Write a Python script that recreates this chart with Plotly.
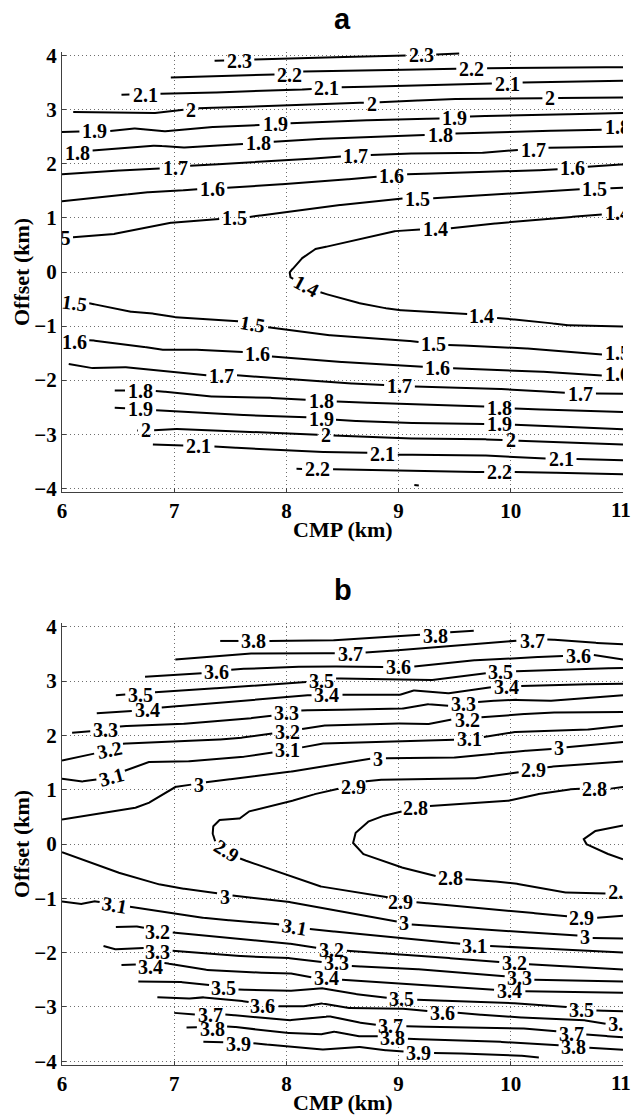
import math
import numpy as np
import plotly.graph_objects as go

# ---------------- data ----------------
CMP_TICKS = [6, 7, 8, 9, 10, 11]
CMP_TICK_TEXT = ["6", "7", "8", "9", "10", "11"]
OFFSET_TICKS = [-4, -3, -2, -1, 0, 1, 2, 3, 4]
PANEL_TITLES = ["a", "b"]
X_TITLE = "CMP (km)"
Y_TITLE = "Offset (km)"

# Panel a: contour lines (level, CMP km, offset km)
A_CONTOURS = [
    (2.3, [7.36, 7.7, 8.3, 9.0, 9.3, 9.54], [3.91, 3.93, 3.97, 4.0, 4.02, 4.04]),
    (2.2, [6.97, 7.5, 7.88, 8.15, 8.5, 9.0, 9.5, 10.0, 10.5, 11.0],
          [3.60, 3.62, 3.65, 3.71, 3.73, 3.74, 3.76, 3.78, 3.785, 3.79]),
    (2.1, [6.53, 6.97, 7.5, 8.0, 8.5, 9.0, 9.5, 10.0, 10.5, 11.0],
          [3.28, 3.30, 3.33, 3.36, 3.42, 3.44, 3.46, 3.50, 3.52, 3.54]),
    (2.0, [6.10, 6.5, 6.78, 6.97, 7.23, 8.0, 8.5, 9.0, 9.4, 10.0, 10.5, 11.0],
          [2.96, 2.95, 2.93, 2.98, 3.03, 3.08, 3.12, 3.15, 3.20, 3.21, 3.22, 3.23]),
    (1.9, [6.0, 6.43, 6.63, 6.9, 7.23, 7.76, 8.03, 8.5, 9.0, 9.4, 9.65, 10.3, 11.0],
          [2.59, 2.61, 2.66, 2.60, 2.67, 2.72, 2.75, 2.79, 2.83, 2.84, 2.88, 2.91, 2.94]),
    (1.8, [6.0, 6.28, 6.85, 7.05, 7.62, 7.88, 8.23, 9.0, 9.5, 10.0, 10.5, 11.0],
          [2.20, 2.25, 2.34, 2.30, 2.37, 2.41, 2.46, 2.51, 2.56, 2.60, 2.62, 2.64]),
    (1.7, [6.0, 6.34, 6.85, 7.17, 8.0, 8.5, 8.78, 9.0, 9.72, 10.07, 10.35, 11.0],
          [1.81, 1.86, 1.91, 1.97, 2.06, 2.14, 2.17, 2.19, 2.20, 2.26, 2.30, 2.32]),
    (1.6, [6.0, 6.43, 6.7, 6.97, 7.17, 7.48, 8.3, 8.79, 9.09, 10.0, 10.41, 10.7, 11.0],
          [1.31, 1.39, 1.47, 1.49, 1.53, 1.56, 1.67, 1.76, 1.81, 1.86, 1.90, 1.95, 1.99]),
    (1.5, [6.0, 6.07, 6.43, 6.78, 6.97, 7.38, 7.68, 8.23, 9.0, 9.28, 10.0, 10.6, 11.0],
          [0.61, 0.64, 0.69, 0.84, 0.91, 0.98, 1.02, 1.18, 1.36, 1.36, 1.46, 1.53, 1.56]),
    (1.4, [11.0, 10.79, 10.0, 9.48, 9.0, 8.75, 8.57, 8.45, 8.27, 8.15, 8.08, 8.03, 8.03,
           8.19, 8.31, 8.57, 8.75, 8.97, 9.59, 9.92, 10.28, 10.46, 11.0],
          [1.08, 1.06, 0.93, 0.81, 0.77, 0.65, 0.56, 0.50, 0.44, 0.28, 0.10, 0.01, -0.09,
           -0.27, -0.38, -0.54, -0.62, -0.70, -0.77, -0.86, -0.92, -0.98, -1.01]),
    (1.5, [6.0, 6.25, 6.58, 6.76, 6.97, 7.5, 7.7, 7.83, 8.3, 9.0, 9.15, 9.45, 10.0, 10.75, 11.0],
          [-0.56, -0.58, -0.73, -0.75, -0.83, -0.89, -0.95, -1.02, -1.16, -1.25, -1.29, -1.35,
           -1.39, -1.52, -1.55]),
    (1.6, [6.0, 6.25, 6.64, 6.87, 7.11, 7.59, 7.85, 8.3, 9.18, 9.5, 10.0, 10.79, 11.0],
          [-1.30, -1.26, -1.35, -1.44, -1.43, -1.47, -1.56, -1.64, -1.75, -1.78, -1.81, -1.91, -1.93]),
    (1.7, [6.06, 6.25, 6.52, 6.97, 7.23, 7.56, 8.3, 8.85, 9.18, 10.0, 10.46, 10.78, 11.0],
          [-1.70, -1.78, -1.75, -1.85, -1.91, -1.91, -2.03, -2.09, -2.12, -2.17, -2.23, -2.25, -2.25]),
    (1.8, [6.47, 6.85, 7.29, 7.7, 8.15, 8.47, 9.0, 9.77, 10.07, 11.0],
          [-2.19, -2.20, -2.30, -2.31, -2.36, -2.40, -2.44, -2.49, -2.53, -2.59]),
    (1.9, [6.47, 6.86, 7.53, 8.15, 8.47, 9.0, 9.77, 10.1, 11.0],
          [-2.51, -2.56, -2.64, -2.68, -2.74, -2.79, -2.81, -2.83, -2.91]),
    (2.0, [6.67, 6.8, 6.97, 7.5, 8.3, 9.0, 9.72, 10.04, 11.0],
          [-2.93, -2.93, -2.90, -2.94, -3.01, -3.08, -3.09, -3.12, -3.19]),
    (2.1, [6.81, 7.38, 8.0, 8.3, 8.7, 9.0, 9.72, 10.31, 10.6, 11.0],
          [-3.19, -3.23, -3.31, -3.33, -3.34, -3.38, -3.39, -3.45, -3.46, -3.48]),
    (2.2, [8.09, 8.43, 9.0, 9.77, 10.07, 11.0],
          [-3.64, -3.65, -3.67, -3.70, -3.70, -3.74]),
    (2.3, [9.14, 9.18], [-3.94, -3.95]),
]

# Panel a: contour labels (level, CMP km, offset km, rotation deg)
A_LABELS = [
    (2.3, 7.58, 3.91, 0), (2.3, 9.20, 4.02, 0),
    (2.2, 8.03, 3.64, 0), (2.2, 9.65, 3.75, 0),
    (2.1, 6.74, 3.28, 0), (2.1, 8.36, 3.40, 0), (2.1, 9.97, 3.48, 0),
    (2.0, 7.15, 3.00, 0), (2.0, 8.76, 3.11, 0), (2.0, 10.35, 3.21, 0),
    (1.9, 6.29, 2.60, 0), (1.9, 7.90, 2.73, 0), (1.9, 9.50, 2.85, 0),
    (1.8, 6.14, 2.20, 0), (1.8, 7.75, 2.38, 0), (1.8, 9.37, 2.53, 0), (1.8, 10.95, 2.64, 0),
    (1.7, 7.01, 1.93, 0), (1.7, 8.62, 2.14, 0), (1.7, 10.20, 2.26, 0),
    (1.6, 7.34, 1.54, 0), (1.6, 8.94, 1.78, 0), (1.6, 10.55, 1.92, 0),
    (1.5, 5.964, 0.60, 0), (1.5, 7.54, 1.00, 0), (1.5, 9.17, 1.35, 0), (1.5, 10.75, 1.53, 0),
    (1.4, 10.95, 1.06, 0), (1.4, 9.33, 0.79, 0), (1.4, 8.18, -0.25, 28), (1.4, 9.74, -0.82, 0),
    (1.5, 6.11, -0.57, 8), (1.5, 7.70, -0.97, 10), (1.5, 9.31, -1.33, 0), (1.5, 10.95, -1.54, 0),
    (1.6, 6.11, -1.30, 0), (1.6, 7.74, -1.52, 0), (1.6, 9.35, -1.77, 0), (1.6, 10.95, -1.92, 0),
    (1.7, 7.42, -1.92, 0), (1.7, 9.01, -2.11, 0), (1.7, 10.62, -2.25, 0),
    (1.8, 6.70, -2.20, 0), (1.8, 8.31, -2.38, 0), (1.8, 9.90, -2.51, 0),
    (1.9, 6.70, -2.53, 0), (1.9, 8.31, -2.71, 0), (1.9, 9.90, -2.82, 0),
    (2.0, 6.75, -2.93, 0), (2.0, 8.35, -3.01, 0), (2.0, 10.00, -3.11, 0),
    (2.1, 7.22, -3.22, 0), (2.1, 8.86, -3.36, 0), (2.1, 10.45, -3.46, 0),
    (2.2, 8.28, -3.64, 0), (2.2, 9.90, -3.70, 0),
]

# Panel b: contour lines (level, CMP km, offset km)
B_CONTOURS = [
    (3.8, [7.41, 7.87, 8.3, 9.0, 9.46, 9.67], [3.74, 3.74, 3.74, 3.82, 3.90, 3.93]),
    (3.7, [7.01, 7.65, 8.23, 8.41, 8.72, 9.0, 9.57, 10.0, 10.34, 10.61, 11.0],
          [3.40, 3.51, 3.52, 3.51, 3.53, 3.57, 3.66, 3.74, 3.77, 3.72, 3.68]),
    (3.6, [6.74, 7.23, 7.55, 8.0, 8.3, 8.82, 9.14, 9.57, 10.0, 10.43, 10.74, 11.0],
          [3.08, 3.14, 3.22, 3.26, 3.27, 3.26, 3.27, 3.37, 3.42, 3.46, 3.48, 3.40]),
    (3.5, [6.48, 6.85, 7.53, 8.0, 8.31, 8.45, 9.0, 9.3, 9.72, 10.04, 10.61, 11.0],
          [2.74, 2.80, 2.89, 2.96, 3.00, 3.05, 3.03, 3.02, 3.14, 3.18, 3.23, 3.24]),
    (3.4, [6.31, 6.58, 6.91, 7.53, 8.12, 8.3, 8.5, 9.0, 9.12, 9.42, 9.83, 10.1, 10.61, 11.0],
          [2.41, 2.44, 2.52, 2.62, 2.73, 2.75, 2.75, 2.74, 2.83, 2.77, 2.89, 2.91, 2.94, 2.95]),
    (3.3, [6.09, 6.28, 6.53, 7.0, 7.53, 7.86, 8.14, 8.3, 9.0, 9.24, 9.42, 9.73, 10.0, 10.31, 11.0],
          [2.05, 2.08, 2.17, 2.20, 2.28, 2.36, 2.46, 2.47, 2.48, 2.58, 2.54, 2.62, 2.66, 2.63, 2.74]),
    (3.2, [6.0, 6.28, 6.55, 7.0, 7.53, 7.86, 8.14, 8.3, 9.0, 9.24, 9.42, 9.76, 10.31, 11.0],
          [1.54, 1.66, 1.85, 1.88, 1.94, 2.03, 2.12, 2.18, 2.22, 2.20, 2.28, 2.34, 2.42, 2.43]),
    (3.1, [6.0, 6.16, 6.28, 6.56, 6.76, 7.03, 7.53, 7.89, 8.14, 8.3, 9.0, 9.48, 9.76, 10.0, 10.61, 11.0],
          [1.20, 1.15, 1.17, 1.35, 1.51, 1.51, 1.58, 1.69, 1.78, 1.85, 1.89, 1.92, 1.97, 2.06, 2.09, 2.18]),
    (3.0, [6.0, 6.64, 6.76, 7.0, 7.11, 7.29, 7.53, 8.0, 8.3, 8.74, 8.88, 9.42, 9.72, 10.0, 10.37, 10.49, 11.0],
          [0.45, 0.66, 0.74, 1.05, 1.08, 1.14, 1.20, 1.32, 1.42, 1.57, 1.58, 1.58, 1.63, 1.70, 1.75, 1.78, 1.88]),
    (2.9, [11.0, 10.34, 10.07, 9.72, 9.0, 8.74, 8.47, 8.3, 8.12, 8.0, 7.68, 7.59, 7.41, 7.35, 7.34, 7.36,
           7.47, 7.6, 7.98, 8.12, 8.3, 8.82, 9.18, 9.72, 10.43, 10.77, 11.0],
          [1.52, 1.42, 1.32, 1.21, 1.20, 1.17, 1.02, 0.95, 0.83, 0.77, 0.62, 0.47, 0.45, 0.34, 0.22, 0.06,
           -0.14, -0.28, -0.55, -0.66, -0.78, -0.95, -1.08, -1.17, -1.32, -1.36, -1.32]),
    (2.8, [11.0, 10.89, 10.58, 10.31, 10.0, 9.3, 9.15, 8.91, 8.74, 8.62, 8.59, 8.68, 8.97, 9.33, 9.61,
           10.0, 10.46, 11.0],
          [1.05, 1.02, 1.02, 0.95, 0.80, 0.71, 0.65, 0.55, 0.43, 0.22, 0.03, -0.18, -0.40, -0.59, -0.65,
           -0.71, -0.89, -0.92]),
    (2.8, [11.0, 10.76, 10.65, 10.67, 10.82, 11.0], [0.34, 0.25, 0.09, 0.0, -0.15, -0.28]),
    (3.0, [6.0, 6.4, 6.79, 7.0, 7.32, 7.52, 7.98, 8.3, 8.97, 9.11, 10.0, 10.58, 10.73, 11.0],
          [-0.15, -0.46, -0.71, -0.80, -0.89, -0.95, -1.05, -1.17, -1.42, -1.48, -1.61, -1.68, -1.73, -1.74]),
    (3.1, [6.0, 6.16, 6.28, 6.62, 7.0, 7.38, 7.83, 8.23, 8.97, 9.57, 9.83, 10.61, 11.0],
          [-1.06, -1.11, -1.05, -1.16, -1.29, -1.39, -1.45, -1.57, -1.73, -1.84, -1.88, -1.96, -2.00]),
    (3.2, [6.48, 6.64, 6.98, 7.53, 7.98, 8.3, 8.56, 9.0, 9.89, 10.19, 11.0],
          [-1.53, -1.51, -1.63, -1.73, -1.82, -1.92, -1.97, -2.03, -2.17, -2.22, -2.31]),
    (3.3, [6.37, 6.46, 6.7, 7.0, 7.53, 7.98, 8.3, 8.59, 9.0, 9.89, 10.21, 11.0],
          [-1.88, -1.94, -1.91, -1.97, -2.06, -2.09, -2.17, -2.25, -2.28, -2.42, -2.50, -2.53]),
    (3.4, [6.53, 6.92, 7.23, 7.68, 8.0, 8.27, 8.51, 9.0, 9.83, 10.13, 11.0],
          [-2.23, -2.19, -2.31, -2.37, -2.37, -2.47, -2.50, -2.56, -2.68, -2.71, -2.74]),
    (3.5, [6.68, 7.0, 7.29, 7.58, 8.0, 8.3, 8.53, 8.88, 9.18, 10.01, 10.49, 10.77, 11.0],
          [-2.53, -2.53, -2.59, -2.68, -2.71, -2.65, -2.74, -2.83, -2.87, -2.93, -3.00, -3.07, -3.08]),
    (3.6, [6.85, 7.11, 7.23, 7.53, 7.93, 8.12, 8.3, 8.53, 8.97, 9.27, 9.54, 10.0, 10.61, 10.9, 11.0],
          [-2.82, -2.85, -2.82, -2.87, -2.99, -3.00, -2.93, -3.02, -3.02, -3.08, -3.11, -3.19, -3.23, -3.33, -3.35]),
    (3.7, [7.0, 7.17, 7.47, 8.0, 8.3, 8.38, 8.59, 8.79, 9.09, 10.01, 10.37, 10.68, 11.0],
          [-3.11, -3.14, -3.14, -3.25, -3.20, -3.17, -3.27, -3.33, -3.36, -3.38, -3.44, -3.51, -3.56]),
    (3.8, [7.11, 7.5, 8.0, 8.3, 8.41, 8.62, 8.8, 9.09, 9.72, 10.37, 10.7, 11.0],
          [-3.38, -3.36, -3.48, -3.51, -3.45, -3.54, -3.54, -3.59, -3.62, -3.70, -3.75, -3.79]),
    (3.9, [7.26, 7.72, 8.0, 8.3, 8.47, 8.62, 8.82, 9.03, 9.33, 10.0, 10.25],
          [-3.64, -3.67, -3.73, -3.79, -3.76, -3.73, -3.79, -3.82, -3.85, -3.88, -3.93]),
]

# Panel b: contour labels (level, CMP km, offset km, rotation deg)
B_LABELS = [
    (3.8, 7.71, 3.74, 0), (3.8, 9.33, 3.84, 0),
    (3.7, 8.57, 3.50, 0), (3.7, 10.19, 3.74, 0),
    (3.6, 7.38, 3.16, 0), (3.6, 9.00, 3.26, 0), (3.6, 10.60, 3.47, 0),
    (3.5, 6.70, 2.75, 0), (3.5, 8.31, 3.00, 0), (3.5, 9.91, 3.17, 0),
    (3.4, 6.76, 2.46, 0), (3.4, 8.36, 2.74, 0), (3.4, 9.96, 2.89, 0),
    (3.3, 6.39, 2.10, 0), (3.3, 8.00, 2.41, 0), (3.3, 9.58, 2.57, 0),
    (3.2, 6.42, 1.74, -12), (3.2, 8.01, 2.07, 0), (3.2, 9.61, 2.29, 0),
    (3.1, 6.44, 1.24, -15), (3.1, 8.01, 1.73, 0), (3.1, 9.63, 1.93, 0),
    (3.0, 7.22, 1.08, 0), (3.0, 8.82, 1.57, 0), (3.0, 10.43, 1.77, 0),
    (2.9, 8.60, 1.05, 0), (2.9, 10.20, 1.36, 0),
    (2.9, 7.47, -0.13, 32), (2.9, 9.02, -1.07, 0), (2.9, 10.63, -1.37, 0),
    (2.8, 9.15, 0.66, 0), (2.8, 10.75, 1.02, 0), (2.8, 9.46, -0.63, 0), (2.8, 10.98, -0.93, 0),
    (3.0, 7.45, -0.97, 0), (3.0, 9.05, -1.46, 0), (3.0, 10.66, -1.71, 0),
    (3.1, 6.47, -1.12, 10), (3.1, 8.07, -1.52, 10), (3.1, 9.68, -1.87, 0),
    (3.2, 6.85, -1.62, 0), (3.2, 8.40, -1.95, 0), (3.2, 10.03, -2.19, 0),
    (3.3, 6.85, -1.98, 0), (3.3, 8.45, -2.20, 0), (3.3, 10.08, -2.46, 0),
    (3.4, 6.79, -2.26, 0), (3.4, 8.36, -2.47, 0), (3.4, 9.99, -2.70, 0),
    (3.5, 7.44, -2.65, 0), (3.5, 9.03, -2.86, 0), (3.5, 10.63, -3.05, 0),
    (3.6, 7.79, -2.98, 0), (3.6, 9.39, -3.12, 0), (3.6, 10.98, -3.35, 0),
    (3.7, 7.32, -3.15, 0), (3.7, 8.93, -3.35, 0), (3.7, 10.54, -3.49, 0),
    (3.8, 7.34, -3.40, 0), (3.8, 8.95, -3.57, 0), (3.8, 10.56, -3.74, 0),
    (3.9, 7.57, -3.68, 0), (3.9, 9.18, -3.85, 0),
]

# ---------------- layout / style ----------------
W, H = 632, 1115
ML, MT = 62, 52
PW, PH = 561, 1013
MR, MB = W - ML - PW, H - MT - PH
X_RANGE = [6, 11]
Y_RANGE = [-4.07, 4.07]
DOM_A = [0.5656, 1.0]
DOM_B = [0.0, 0.4363]
SERIF = "Liberation Serif"
LABEL_SIZE = 20
TICK_SIZE = 21


def label_text(level):
    return f"{level:g}"


def text_width(s, size):
    return sum(0.25 * size if ch == "." else 0.5 * size for ch in s)


def build_panel(fig, contours, labels, xa, ya, dom):
    sx = PW / (X_RANGE[1] - X_RANGE[0])
    sy = (dom[1] - dom[0]) * PH / (Y_RANGE[1] - Y_RANGE[0])
    for level, xs, ys in contours:
        px = np.asarray(xs) * sx
        py = -np.asarray(ys) * sy
        dx_list, dy_list = [xs[0]], [ys[0]]
        for i in range(len(xs) - 1):
            d = math.hypot(px[i + 1] - px[i], py[i + 1] - py[i])
            n = max(1, int(math.ceil(d / 0.8)))
            for k in range(1, n + 1):
                t = k / n
                dx_list.append(xs[i] + t * (xs[i + 1] - xs[i]))
                dy_list.append(ys[i] + t * (ys[i + 1] - ys[i]))
        dx_arr = np.array(dx_list)
        dy_arr = np.array(dy_list)
        keep = np.ones(len(dx_arr), dtype=bool)
        for lv, lx, ly, ang in labels:
            if abs(lv - level) > 1e-6:
                continue
            hw = text_width(label_text(lv), LABEL_SIZE) / 2 + 2.5
            hh = 8.5
            ddx = (dx_arr - lx) * sx
            ddy = -(dy_arr - ly) * sy
            a = math.radians(ang)
            u = ddx * math.cos(a) + ddy * math.sin(a)
            v = -ddx * math.sin(a) + ddy * math.cos(a)
            keep &= (u / hw) ** 2 + (v / hh) ** 2 > 1.0
        out_x, out_y = [], []
        for x, y, kp in zip(dx_arr, dy_arr, keep):
            if kp:
                out_x.append(float(x))
                out_y.append(float(y))
            elif out_x and out_x[-1] is not None:
                out_x.append(None)
                out_y.append(None)
        fig.add_trace(go.Scatter(
            x=out_x, y=out_y, mode="lines", xaxis=xa, yaxis=ya,
            line=dict(color="black", width=2), hoverinfo="skip",
            showlegend=False, connectgaps=False, cliponaxis=True))

    label_font = dict(family=SERIF, size=LABEL_SIZE, color="black", weight="bold")
    # labels that straddle the plot edge are clipped by the axes, like the reference
    edge = [l for l in labels if l[1] < 6.0 or l[1] > 10.85]
    fig.add_trace(go.Scatter(
        x=[l[1] for l in edge], y=[l[2] for l in edge],
        text=[label_text(l[0]) for l in edge], mode="text",
        textposition="middle center", xaxis=xa, yaxis=ya, textfont=label_font,
        hoverinfo="skip", showlegend=False, cliponaxis=True))
    for lv, lx, ly, ang in labels:
        if lx < 6.0 or lx > 10.85:
            continue
        fig.add_annotation(
            x=lx, y=ly, xref=xa, yref=ya, text=label_text(lv), showarrow=False,
            textangle=ang, xanchor="center", yanchor="middle", font=label_font)


fig = go.Figure()
build_panel(fig, A_CONTOURS, A_LABELS, "x", "y", DOM_A)
build_panel(fig, B_CONTOURS, B_LABELS, "x2", "y2", DOM_B)

tick_font = dict(family=SERIF, size=TICK_SIZE, color="black", weight="bold")
axis_common = dict(
    showgrid=True, gridcolor="#6e6e6e", gridwidth=1, griddash="1px,3px",
    showline=True, linecolor="#404040", linewidth=1, mirror=False,
    ticks="inside", ticklen=4, tickcolor="#404040", zeroline=False,
    tickfont=tick_font,
)
# the last CMP tick label sits on the page edge; it is drawn as an
# annotation (below) so that it does not widen the page
x_ticktext = CMP_TICK_TEXT[:-1] + [""]

fig.update_layout(
    width=W, height=H, autosize=False,
    margin=dict(l=ML, r=MR, t=MT, b=MB, pad=0),
    paper_bgcolor="white", plot_bgcolor="white", showlegend=False,
    hovermode=False,
    xaxis=dict(domain=[0, 1], range=X_RANGE, tickvals=CMP_TICKS, ticktext=x_ticktext,
               anchor="y", **axis_common),
    yaxis=dict(domain=DOM_A, range=Y_RANGE, tickvals=OFFSET_TICKS, anchor="x", **axis_common),
    xaxis2=dict(domain=[0, 1], range=X_RANGE, tickvals=CMP_TICKS, ticktext=x_ticktext,
                anchor="y2", **axis_common),
    yaxis2=dict(domain=DOM_B, range=Y_RANGE, tickvals=OFFSET_TICKS, anchor="x2", **axis_common),
)

title_font = dict(family="Liberation Sans", size=29, color="black", weight="bold")
axis_title_font = dict(family=SERIF, size=22, color="black", weight="bold")


def paper_y(page_y):
    return (H - MB - page_y) / PH


def paper_x(page_x):
    return (page_x - ML) / PW


for title, dom in zip(PANEL_TITLES, [DOM_A, DOM_B]):
    top_page = MT + (1 - dom[1]) * PH
    bot_page = MT + (1 - dom[0]) * PH
    fig.add_annotation(text=title, xref="paper", yref="paper", x=0.5,
                       y=paper_y(top_page - 33), showarrow=False,
                       xanchor="center", yanchor="middle", font=title_font)
    fig.add_annotation(text=X_TITLE, xref="paper", yref="paper", x=0.5,
                       y=paper_y(bot_page + 37), showarrow=False,
                       xanchor="center", yanchor="middle", font=axis_title_font)
    fig.add_annotation(text=Y_TITLE, xref="paper", yref="paper", x=paper_x(21),
                       y=paper_y((top_page + bot_page) / 2), showarrow=False,
                       textangle=-90, xanchor="center", yanchor="middle", font=axis_title_font)
    fig.add_annotation(text=CMP_TICK_TEXT[-1], xref="paper", yref="paper",
                       x=paper_x(W), y=paper_y(bot_page + 17.5), showarrow=False,
                       xanchor="right", yanchor="middle", borderpad=0, font=tick_font)

# drop the browser's default 8 px body margin so the figure sits at the page corner
fig.write_html("out.html", config={"displayModeBar": False, "staticPlot": True},
               post_script="document.body.style.margin='0px';")
